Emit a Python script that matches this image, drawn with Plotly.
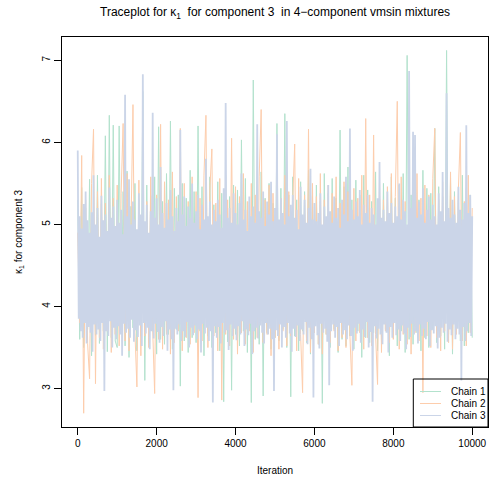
import numpy as np
import plotly.graph_objects as go

# ---- data (thinned) ----
chain1 = [
    5.30,3.60,5.45,3.50,5.20,3.72,5.55,3.40,5.10,3.65,5.60,3.55,5.25,3.70,6.08,3.45,6.33,3.62,6.21,3.58,
    3.50,6.20,3.68,5.40,3.52,5.65,3.38,5.22,3.74,5.50,3.46,5.30,3.64,6.62,3.10,5.48,3.56,5.35,3.70,5.58,
    3.42,6.19,3.60,5.28,3.54,5.62,3.66,6.26,3.48,5.44,3.72,5.36,3.03,5.50,3.58,5.32,3.44,5.66,3.62,5.40,
    3.56,6.20,3.70,5.46,3.40,5.30,3.64,5.58,3.50,5.24,3.68,5.52,3.46,5.38,2.84,5.60,3.57,5.34,2.98,5.48,
    3.66,5.42,3.52,6.03,3.70,5.56,3.44,5.28,2.83,6.76,3.60,5.38,3.54,5.64,2.91,5.32,3.68,5.50,3.48,5.26,
    3.62,6.23,3.58,5.44,3.72,6.35,3.50,5.36,2.90,5.58,3.64,5.30,3.46,5.52,3.70,5.40,3.56,5.66,3.42,5.34,
    3.68,5.48,3.54,5.28,2.82,5.62,3.66,5.38,3.50,5.56,3.72,5.32,3.44,6.15,3.60,5.46,3.52,5.70,3.64,5.30,
    3.48,5.54,3.70,5.36,3.38,5.60,3.62,5.42,3.56,5.28,3.68,5.64,3.46,5.34,3.58,5.50,3.72,5.40,3.40,5.58,
    3.66,5.32,3.52,5.48,3.70,5.62,3.44,7.06,3.60,5.36,3.54,5.52,3.68,5.30,3.46,5.66,3.62,5.44,3.50,5.38,
    3.72,6.17,3.56,5.46,3.64,5.34,3.48,7.12,3.66,5.56,3.42,5.40,3.70,5.30,3.58,5.60,3.52,5.44,3.68,5.36,
    3.62,
]
chain2 = [
    4.90,3.80,5.84,2.70,5.30,3.55,3.12,5.50,6.16,3.06,5.40,3.62,5.56,3.48,5.26,3.70,5.60,3.44,5.32,3.66,
    5.48,3.52,5.38,6.23,3.58,5.62,3.46,5.30,6.46,3.68,3.02,5.54,3.40,5.42,3.64,5.28,3.50,5.58,3.72,2.94,
    5.36,3.60,6.22,3.48,5.52,3.66,5.30,3.42,5.64,3.56,5.34,3.70,6.17,3.46,5.50,3.62,5.28,3.54,5.58,3.68,
    5.40,2.89,5.32,3.58,5.60,6.33,3.50,5.44,5.92,3.64,5.26,3.46,5.56,2.86,5.38,3.66,5.30,3.52,6.05,3.60,
    5.46,3.42,5.34,3.68,5.62,3.54,5.28,3.70,5.50,3.44,5.36,3.62,5.58,6.40,3.56,5.30,3.66,5.48,3.40,5.38,
    3.62,5.54,3.48,5.32,3.70,5.60,3.52,5.40,3.64,5.28,5.98,3.46,5.56,3.66,2.95,5.36,3.58,6.16,3.44,5.50,
    3.68,5.34,3.54,5.62,3.42,5.30,3.66,5.48,3.56,5.38,3.70,5.58,3.46,5.26,3.62,5.52,3.50,5.40,3.64,3.04,
    5.44,3.58,5.32,3.68,5.60,3.48,6.29,3.62,5.36,3.52,6.09,3.66,3.05,5.54,3.44,5.30,3.70,5.46,3.56,5.62,
    3.60,5.34,6.50,3.48,5.58,3.66,5.28,3.54,5.50,3.42,5.40,3.68,5.62,3.58,5.32,2.95,5.48,3.64,5.36,3.50,
    5.56,6.17,3.62,5.30,3.46,5.52,3.70,5.40,3.56,5.64,3.48,5.34,3.66,5.44,6.12,3.58,5.28,3.52,5.60,3.68,
    5.20,
]
chain3 = [
    5.90,3.85,5.10,3.70,4.95,3.62,5.25,3.80,5.40,3.55,5.05,3.75,4.90,3.68,5.15,3.45,5.60,3.78,5.00,3.66,
    5.20,3.72,4.85,3.58,5.35,3.80,5.05,2.97,5.12,3.70,4.92,3.64,5.45,3.82,5.08,3.50,5.22,3.74,4.98,3.60,
    5.30,3.76,5.02,3.66,5.18,3.40,4.88,3.79,6.58,3.68,5.10,3.73,5.55,3.62,5.00,3.84,5.28,3.57,5.06,3.71,
    4.94,3.63,5.38,3.77,5.12,3.52,6.83,3.80,5.04,3.67,5.24,3.74,4.90,3.48,5.16,3.70,6.36,3.61,5.08,3.79,
    5.32,3.69,5.00,3.56,5.70,3.75,5.14,3.64,4.96,3.82,5.26,3.46,5.06,3.72,5.42,3.60,5.10,2.98,4.92,3.73,
    5.20,3.66,5.04,3.78,6.15,3.58,5.12,3.70,5.34,3.63,4.98,3.81,5.22,3.50,5.08,3.74,5.50,3.65,5.02,3.77,
    5.16,3.60,5.36,3.72,4.94,3.44,5.24,3.79,5.06,3.67,5.80,3.74,5.10,3.58,5.28,3.70,5.00,2.83,5.18,3.76,
    5.04,3.62,5.30,3.75,5.12,3.55,4.96,3.80,5.44,3.68,6.48,3.71,5.08,3.47,5.20,3.78,5.02,3.64,5.38,3.73,
    5.14,3.59,5.00,3.76,5.26,3.66,5.62,3.82,5.06,3.52,5.18,3.72,4.92,3.65,5.34,3.79,5.10,3.42,5.22,3.70,
    5.02,3.74,6.22,3.61,5.16,3.77,5.08,3.68,5.40,3.55,4.98,3.80,5.28,3.66,5.12,3.73,5.52,3.60,5.04,2.97,
    5.20,3.71,6.10,3.64,5.06,3.78,5.32,3.50,5.14,3.75,5.00,3.62,6.26,3.80,5.10,3.67,5.24,3.45,5.36,3.73,
    5.08,3.63,5.18,3.77,4.94,3.58,5.46,3.72,5.12,3.66,5.30,3.81,5.02,3.54,5.20,3.74,5.68,3.60,5.06,2.89,
    5.26,3.76,5.04,3.65,5.14,3.49,5.38,3.79,5.00,3.68,5.22,3.73,5.10,3.57,5.48,3.04,5.16,3.70,5.02,3.78,
    5.34,3.62,5.08,3.75,5.20,3.52,4.96,3.80,5.30,3.66,5.12,3.71,5.58,3.60,5.04,3.77,6.17,3.64,5.18,3.46,
    5.06,3.74,5.28,3.67,5.10,3.79,5.42,3.56,5.00,3.72,5.24,3.63,5.14,3.81,5.36,3.50,5.02,3.69,5.20,2.84,
    5.12,3.76,5.00,3.61,5.32,3.73,5.76,3.66,5.08,3.54,5.18,3.78,5.04,3.68,5.40,3.44,5.14,3.75,5.26,3.62,
    5.02,3.80,5.22,3.65,5.10,3.72,5.50,3.58,5.06,3.77,5.30,3.67,5.16,3.48,5.00,3.74,6.87,3.63,5.20,3.79,
    6.13,3.66,6.09,3.70,5.08,3.55,5.28,3.78,5.12,3.64,5.44,3.73,5.02,3.60,5.18,3.81,5.34,3.52,5.06,3.71,
    5.24,3.67,5.10,3.76,5.00,3.49,5.38,3.62,5.16,3.74,5.64,3.68,5.04,3.79,6.60,3.57,5.20,3.72,5.08,3.65,
    5.30,3.78,5.12,3.60,5.02,3.73,5.46,3.66,5.18,3.10,5.06,3.75,5.26,3.58,6.21,3.70,5.14,3.80,5.36,3.64,
    5.10,
]
chain_names = ["Chain 1", "Chain 2", "Chain 3"]
chain_colors = ["#B3E2CD", "#FDCDAC", "#CBD5E8"]
chain_widths = [1, 1, 1.8]
n_iter = 10000
x_ticks = [0, 2000, 4000, 6000, 8000, 10000]
x_ticklabels = ["0", "2000", "4000", "6000", "8000", "10000"]
y_ticks = [3, 4, 5, 6, 7]
y_ticklabels = ["3", "4", "5", "6", "7"]

FONT = "Liberation Sans, Arial, Helvetica, sans-serif"

fig = go.Figure()
for vals, name, col, lw in zip([chain1, chain2, chain3], chain_names, chain_colors, chain_widths):
    it = np.linspace(0, n_iter, len(vals))
    fig.add_trace(go.Scatter(x=it, y=vals, mode="lines", name=name,
                             line=dict(color=col, width=lw), showlegend=False,
                             hoverinfo="skip"))

# geometry of plot region in pixels
W, H = 489, 482
L, R, T, B = 62, 1, 37, 55
pw, ph = W - L - R, H - T - B

def px_x(p):
    return (p - L) / pw

def px_y(p):
    return (H - B - p) / ph

shapes = [dict(type="rect", xref="paper", yref="paper",
               x0=px_x(413.3), x1=1, y0=0, y1=px_y(379),
               line=dict(color="black", width=1), fillcolor="rgba(0,0,0,0)",
               layer="above")]
annotations = []
for i, (name, col) in enumerate(zip(chain_names, chain_colors)):
    yy = px_y(391.5 + 12 * i)
    shapes.append(dict(type="line", xref="paper", yref="paper",
                       x0=px_x(420), x1=px_x(441), y0=yy, y1=yy,
                       line=dict(color=col, width=1), layer="above"))
    annotations.append(dict(text=name, xref="paper", yref="paper",
                            x=px_x(449), y=yy, xanchor="left", yanchor="middle",
                            showarrow=False, font=dict(family=FONT, size=10, color="black")))

annotations.append(dict(text="Iteration", xref="paper", yref="paper",
                        x=0.5, y=px_y(470), xanchor="center", yanchor="middle",
                        showarrow=False, font=dict(family=FONT, size=10, color="black")))
annotations.append(dict(text="κ<sub>1</sub> for component 3", xref="paper", yref="paper",
                        x=px_x(19), y=0.5, xanchor="center", yanchor="middle",
                        textangle=-90, showarrow=False,
                        font=dict(family=FONT, size=10, color="black")))
annotations.append(dict(text="Traceplot for κ<sub>1</sub>  for component 3  in 4\u2212component vmsin mixtures",
                        xref="paper", yref="paper", x=0.5, y=px_y(12.7),
                        xanchor="center", yanchor="middle", showarrow=False,
                        font=dict(family=FONT, size=12, color="black")))

fig.update_layout(
    width=W, height=H,
    margin=dict(l=L, r=R, t=T, b=B),
    paper_bgcolor="white", plot_bgcolor="white",
    showlegend=False, hovermode=False,
    shapes=shapes, annotations=annotations,
    xaxis=dict(range=[-399, 10400], tickvals=x_ticks, ticktext=x_ticklabels,
               ticks="outside", ticklen=7,
               tickcolor="black", showgrid=False, zeroline=False,
               showline=True, linecolor="black", linewidth=1, mirror=True,
               tickfont=dict(family=FONT, size=10, color="black")),
    yaxis=dict(range=[2.532, 7.284], tickvals=y_ticks, ticktext=y_ticklabels,
               ticks="outside", ticklen=7,
               tickcolor="black", showgrid=False, zeroline=False, tickangle=-90,
               showline=True, linecolor="black", linewidth=1, mirror=True,
               tickfont=dict(family=FONT, size=10, color="black")),
)

fig.write_html("out.html", config={"displayModeBar": False, "staticPlot": True},
               post_script="document.body.style.margin='0';document.body.style.overflow='hidden';")
